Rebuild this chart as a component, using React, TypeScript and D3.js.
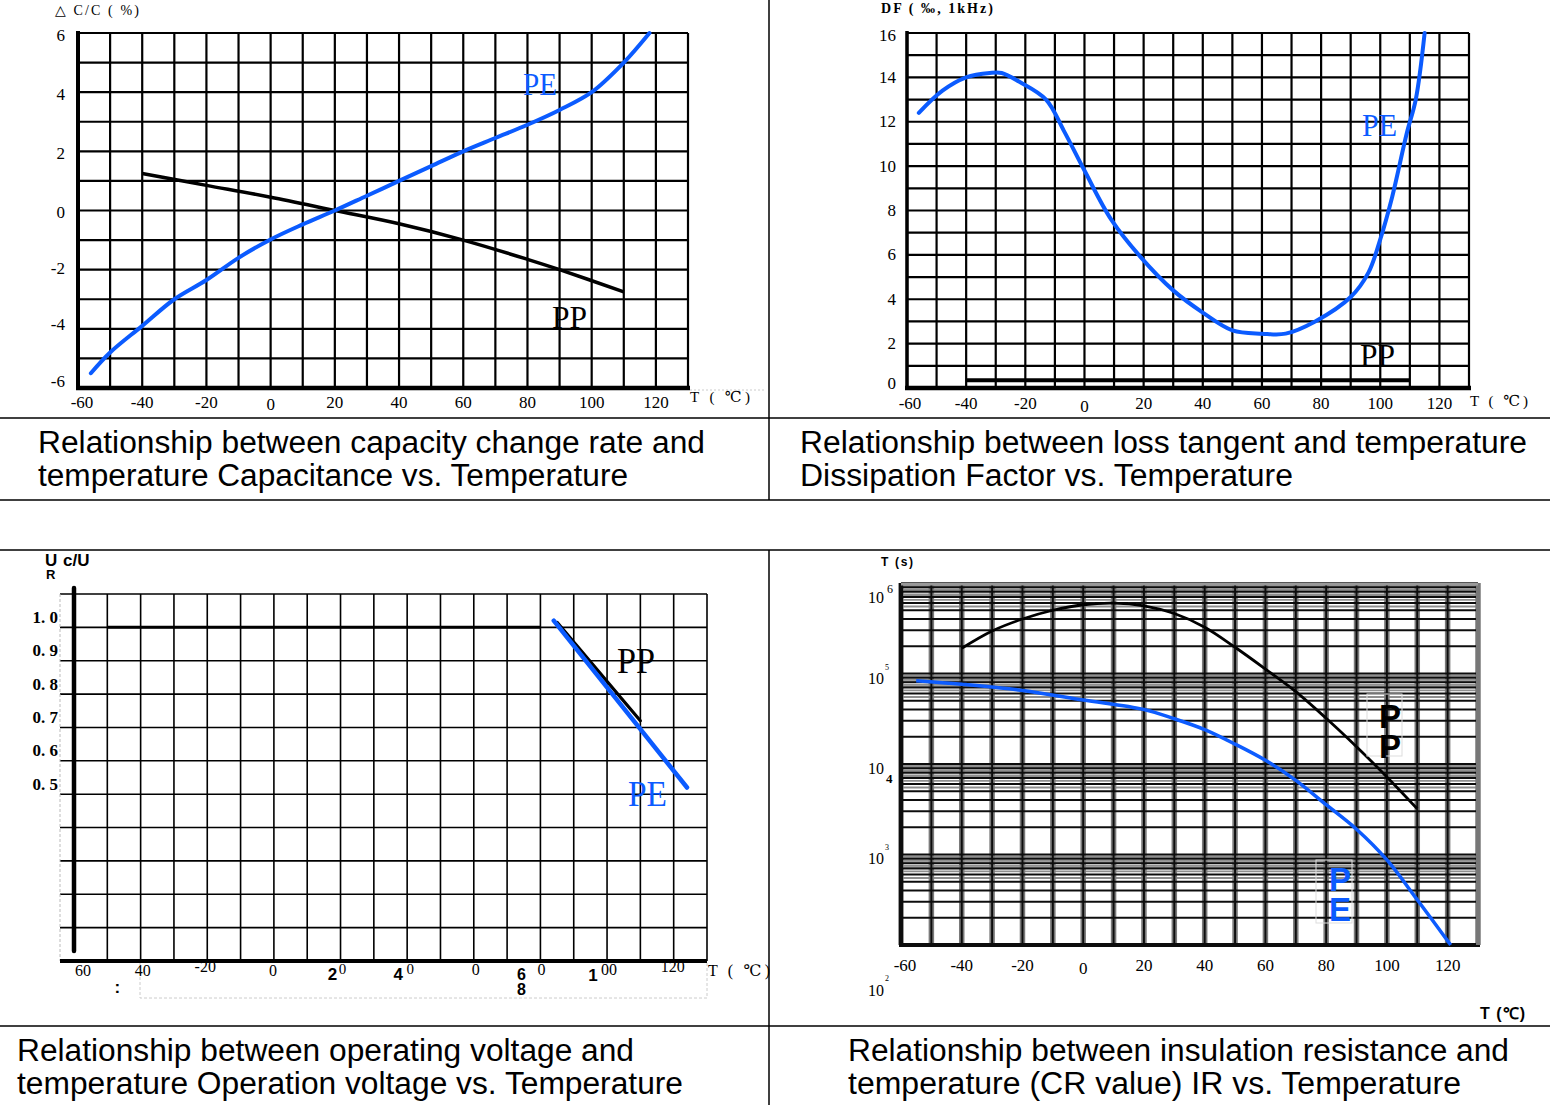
import React from 'react';
import * as d3 from 'd3';

const BLUE = '#0b5bff';
const SERIF = '"Liberation Serif", "DejaVu Serif", serif';
const SANS = '"Liberation Sans", Arial, sans-serif';

type Pt = [number, number];

// shared temperature axis
const tempTicks = [-60, -40, -20, 0, 20, 40, 60, 80, 100, 120];
const gridTemps = d3.range(-60, 131, 10);

// capacitance change vs temperature (%)
const capTicks = [6, 4, 2, 0, -2, -4, -6];
const capPE: Pt[] = [
  [-56, -5.5], [-50, -4.8], [-40, -3.9], [-30, -3.0], [-20, -2.35], [-10, -1.6], [0, -0.98],
  [10, -0.47], [20, 0], [30, 0.5], [40, 1.0], [50, 1.5], [60, 2.0], [70, 2.45], [80, 2.9],
  [90, 3.4], [100, 4.0], [110, 5.0], [118, 6.0],
];
const capPP: Pt[] = [
  [-40, 1.25], [-20, 0.85], [0, 0.45], [20, 0], [40, -0.45], [60, -1.0], [80, -1.65], [90, -2.0], [110, -2.75],
];

// dissipation factor vs temperature (‰)
const dfTicks = [16, 14, 12, 10, 8, 6, 4, 2, 0];
const dfPE: Pt[] = [
  [-56, 12.4], [-48, 13.4], [-40, 14.0], [-32, 14.2], [-28, 14.2], [-22, 13.8], [-13, 13.0],
  [-7, 11.6], [0, 9.8], [9, 7.6], [19, 5.9], [30, 4.4], [40, 3.4], [50, 2.6], [60, 2.45],
  [68, 2.45], [78, 3.0], [90, 4.1], [96, 5.2], [100, 6.7], [104, 8.6], [109, 11.5], [112, 13.0], [115, 16],
];
const dfPP: Pt[] = [[-40, 0.35], [110, 0.35]];

// operating voltage ratio vs temperature
const voltTicks = [1.0, 0.9, 0.8, 0.7, 0.6, 0.5];
const voltTickText = ['1. 0', '0. 9', '0. 8', '0. 7', '0. 6', '0. 5'];
const voltPPFlat: Pt[] = [[-50, 1.0], [80, 1.0]];
const voltPPDrop: Pt[] = [[85, 1.015], [110, 0.72]];
const voltPE: Pt[] = [[84, 1.02], [124, 0.52]];
const voltXText = ['60', '40', '-20', '0', '2', '0', '4', '0', '0', '6', '8', '0', '1', '00', '120', ':'];
const voltXTemp = [-60, -40, -20, 0, 20, 20, 40, 40, 60, 80, 80, 80, 100, 100, 120, -47];

// insulation resistance (CR value, s) vs temperature
const irDecades = [6, 5, 4, 3, 2];
const irPP: Pt[] = [
  [-40, 190000], [-30, 295000], [-20, 400000], [-10, 500000], [0, 575000], [10, 600000],
  [20, 560000], [30, 460000], [40, 325000], [50, 195000], [60, 112000], [70, 63000],
  [80, 32000], [90, 15500], [100, 7200], [110, 3200],
];
const irPE: Pt[] = [
  [-55, 83000], [-40, 76000], [-20, 65000], [0, 51000], [20, 40000], [30, 31600], [40, 24000],
  [50, 16600], [60, 11000], [70, 6600], [80, 3550], [90, 1900], [100, 870], [110, 316], [121, 100],
];

const captions = [
  ['Relationship between capacity change rate and', 'temperature Capacitance vs. Temperature'],
  ['Relationship between loss tangent and temperature', 'Dissipation Factor vs. Temperature'],
  ['Relationship between operating voltage and', 'temperature Operation voltage vs. Temperature'],
  ['Relationship between insulation resistance and', 'temperature (CR value) IR vs. Temperature'],
];

function Grid(props: { vx: number[]; hy: number[]; x0: number; x1: number; y0: number; y1: number; stroke?: string; width?: number }) {
  const { vx, hy, x0, x1, y0, y1, stroke = '#000', width = 2 } = props;
  return (
    <g stroke={stroke} strokeWidth={width}>
      {vx.map((x, i) => <line key={'v' + i} x1={x} x2={x} y1={y0} y2={y1} />)}
      {hy.map((y, i) => <line key={'h' + i} x1={x0} x2={x1} y1={y} y2={y} />)}
    </g>
  );
}

function CapChart() {
  const x = d3.scaleLinear().domain([-60, 130]).range([78, 688]);
  const y = d3.scaleLinear().domain([-6, 6]).range([388, 33]);
  const ln = d3.line<Pt>().x(d => x(d[0])).y(d => y(d[1])).curve(d3.curveCatmullRom.alpha(0.5));
  return (
    <g>
      <Grid vx={gridTemps.map(x)} hy={d3.range(-6, 7).map(y)} x0={78} x1={688} y0={33} y1={388} width={2.2} />
      <line x1={78} x2={78} y1={31} y2={390} stroke="#000" strokeWidth={4} />
      <line x1={76} x2={690} y1={388} y2={388} stroke="#000" strokeWidth={4.5} />
      <line x1={690} x2={765} y1={390} y2={390} stroke="#ccc" strokeWidth={1} strokeDasharray="2,2" />
      <path d={ln(capPP) || ''} fill="none" stroke="#000" strokeWidth={3.5} />
      <path d={ln(capPE) || ''} fill="none" stroke={BLUE} strokeWidth={4} strokeLinecap="round" />
      <g fontFamily={SERIF} fontSize={17} fill="#000">
        {capTicks.map(v => (
          <text key={v} x={65} y={y(v) + 2 - Math.max(0, -v) * 1.5} textAnchor="end" dominantBaseline="central">{v}</text>
        ))}
        {tempTicks.map(t => (
          <text key={t} x={x(t) + (t === -60 ? 4 : 0)} y={t === 0 ? 404 : 402} textAnchor="middle" dominantBaseline="central">{t}</text>
        ))}
        <text x={690} y={397} dominantBaseline="central" textLength={60} fontSize={15}>T ( ℃)</text>
        <text x={55} y={10} dominantBaseline="central" textLength={84} fontSize={14}>△ C/C ( %)</text>
      </g>
      <text x={523} y={95} fontFamily={SERIF} fontSize={32} fill={BLUE} textLength={34} lengthAdjust="spacingAndGlyphs">PE</text>
      <text x={552} y={328} fontFamily={SERIF} fontSize={32} fill="#000" textLength={35} lengthAdjust="spacingAndGlyphs">PP</text>
    </g>
  );
}

function DFChart() {
  const x = d3.scaleLinear().domain([-60, 130]).range([907, 1469]);
  const y = d3.scaleLinear().domain([0, 16]).range([388, 33]);
  const ln = d3.line<Pt>().x(d => x(d[0])).y(d => y(d[1])).curve(d3.curveCatmullRom.alpha(0.5));
  return (
    <g>
      <Grid vx={gridTemps.map(x)} hy={d3.range(0, 17).map(y)} x0={907} x1={1469} y0={33} y1={388} width={2.2} />
      <line x1={907} x2={907} y1={31} y2={390} stroke="#000" strokeWidth={3.5} />
      <line x1={905} x2={1471} y1={388} y2={388} stroke="#000" strokeWidth={4.5} />
      <path d={ln(dfPP) || ''} fill="none" stroke="#000" strokeWidth={4} />
      <path d={ln(dfPE) || ''} fill="none" stroke={BLUE} strokeWidth={4} strokeLinecap="round" />
      <g fontFamily={SERIF} fontSize={17} fill="#000">
        {dfTicks.map(v => (
          <text key={v} x={896} y={y(v) + (v === 16 ? 2 : v === 0 ? -5 : 0)} textAnchor="end" dominantBaseline="central">{v}</text>
        ))}
        {tempTicks.map(t => (
          <text key={t} x={x(t) + (t === -60 ? 3 : 0)} y={t === 0 ? 406 : 403} textAnchor="middle" dominantBaseline="central">{t}</text>
        ))}
        <text x={1470} y={401} dominantBaseline="central" textLength={58} fontSize={15}>T ( ℃)</text>
        <text x={881} y={8.5} dominantBaseline="central" textLength={112} fontSize={14} fontWeight="bold">DF ( ‰, 1kHz)</text>
      </g>
      <text x={1362} y={136} fontFamily={SERIF} fontSize={32} fill={BLUE} textLength={35} lengthAdjust="spacingAndGlyphs">PE</text>
      <text x={1360} y={366} fontFamily={SERIF} fontSize={32} fill="#000" textLength={35} lengthAdjust="spacingAndGlyphs">PP</text>
    </g>
  );
}

function VoltChart() {
  const x = d3.scaleLinear().domain([-60, 130]).range([74, 707]);
  const y = d3.scaleLinear().domain([0, 1.1]).range([961, 594]);
  const ln = d3.line<Pt>().x(d => x(d[0])).y(d => y(d[1]));
  // per-label nudges for the jumbled x labels of the source
  const nudge: [number, number, number, boolean][] = [
    [9, 970, 16, false], [2, 970, 16, false], [-2, 966, 16, false], [-1, 970, 16, false],
    [-8, 974, 17, true], [2, 969, 15, false], [-9, 974, 17, true], [3, 969, 15, false],
    [2, 969, 16, false], [-19, 974, 16, true], [-19, 989, 16, true], [1, 969, 16, false],
    [-14, 975, 17, true], [2, 969, 16, false], [-1, 966, 16, false], [0, 987, 17, true],
  ];
  return (
    <g>
      <Grid vx={d3.range(-50, 131, 10).map(x)} hy={d3.range(1, 12).map(i => y(i / 10))} x0={60} x1={707} y0={594} y1={961} width={1.6} />
      <line x1={60} x2={60} y1={594} y2={961} stroke="#bbb" strokeWidth={1} strokeDasharray="3,2" />
      <path d="M140,962 V998 H707 V962" fill="none" stroke="#ccc" strokeWidth={1} strokeDasharray="3,2" />
      <line x1={60} x2={707} y1={961} y2={961} stroke="#000" strokeWidth={4} />
      <line x1={74} x2={74} y1={588} y2={951} stroke="#000" strokeWidth={4.5} strokeLinecap="round" />
      <path d={ln(voltPPFlat) || ''} fill="none" stroke="#000" strokeWidth={3} />
      <path d={ln(voltPPDrop) || ''} fill="none" stroke="#000" strokeWidth={3.2} strokeLinecap="round" />
      <path d={ln(voltPE) || ''} fill="none" stroke={BLUE} strokeWidth={4.5} strokeLinecap="round" />
      <g fontFamily={SERIF} fontSize={17} fill="#000" fontWeight="bold">
        {voltTicks.map((v, i) => (
          <text key={i} x={58} y={y(v) - 10} textAnchor="end" dominantBaseline="central">{voltTickText[i]}</text>
        ))}
      </g>
      <g fill="#000">
        {voltXText.map((s, i) => {
          const [dx, cy, fs, bold] = nudge[i];
          return (
            <text key={i} x={x(voltXTemp[i]) + dx} y={cy} textAnchor="middle" dominantBaseline="central"
              fontFamily={bold ? SANS : SERIF} fontWeight={bold ? 'bold' : 'normal'} fontSize={fs}>{s}</text>
          );
        })}
        <text x={708} y={970} fontFamily={SERIF} fontSize={16} dominantBaseline="central" textLength={62}>T ( ℃)</text>
      </g>
      <g fontFamily={SANS} fontWeight="bold" fill="#000">
        <text x={45} y={566} fontSize={17}>U</text>
        <text x={63} y={566} fontSize={17}>c/U</text>
        <text x={46} y={579} fontSize={13}>R</text>
      </g>
      <text x={617} y={673} fontFamily={SERIF} fontSize={36} fill="#000" textLength={38} lengthAdjust="spacingAndGlyphs">PP</text>
      <text x={628} y={806} fontFamily={SERIF} fontSize={36} fill={BLUE} textLength={39} lengthAdjust="spacingAndGlyphs">PE</text>
    </g>
  );
}

function IRChart() {
  const x = d3.scaleLinear().domain([-60, 130]).range([901, 1478]);
  const y = d3.scaleLog().domain([100, 1e6]).range([945, 583]);
  const ln = d3.line<Pt>().x(d => x(d[0])).y(d => y(d[1])).curve(d3.curveCatmullRom.alpha(0.5));
  const minor: number[] = [];
  const dense: number[] = [];
  [2, 3, 4, 5].forEach(n => {
    for (let k = 1; k <= 9; k++) minor.push(k * 10 ** n);
    [5.5, 6.5, 7.5, 8.5, 9.5, 7.2, 8.2, 9.2].forEach(k => dense.push(k * 10 ** n));
  });
  minor.push(1e6);
  const vx = gridTemps.map(x);
  // exponent placement mirrors the source's slightly scattered superscripts
  const expo: [number, number, number, boolean][] = [[887, 589, 12, false], [885, 667, 8, false], [886, 778, 13, true], [885, 847, 8, false], [885, 978, 8, false]];
  const base = [597, 678, 768, 858, 990];
  return (
    <g>
      <g filter="url(#soft)">
        <rect x={901} y={583} width={577} height={362} fill="#fff" />
        <g stroke="#8f8f8f" strokeWidth={1.8}>
          {dense.map((v, i) => <line key={i} x1={901} x2={1478} y1={y(v)} y2={y(v)} />)}
        </g>
        <g stroke="#7a7a7a" strokeWidth={5.5}>
          {vx.map((v, i) => <line key={i} x1={v} x2={v} y1={583} y2={945} />)}
        </g>
        <g stroke="#111" strokeWidth={2}>
          {minor.map((v, i) => <line key={i} x1={901} x2={1478} y1={y(v)} y2={y(v)} />)}
          {vx.map((v, i) => <line key={'v' + i} x1={v} x2={v} y1={583} y2={945} />)}
        </g>
        <line x1={901} x2={901} y1={583} y2={947} stroke="#111" strokeWidth={4} />
        <line x1={899} x2={1480} y1={945} y2={945} stroke="#111" strokeWidth={4} />
        <line x1={1478} x2={1478} y1={583} y2={945} stroke="#777" strokeWidth={4} />
        <line x1={901} x2={1478} y1={584} y2={584} stroke="#999" strokeWidth={3} />
        <path d={ln(irPP) || ''} fill="none" stroke="#000" strokeWidth={2.8} />
        <path d={ln(irPE) || ''} fill="none" stroke={BLUE} strokeWidth={3.5} />
      </g>
      <g fontFamily={SERIF} fill="#000">
        {irDecades.map((d, i) => (
          <g key={d}>
            <text x={868} y={base[i]} fontSize={16} dominantBaseline="central">10</text>
            <text x={expo[i][0]} y={expo[i][1]} fontSize={expo[i][2]} fontWeight={expo[i][3] ? 'bold' : 'normal'} dominantBaseline="central">{d}</text>
          </g>
        ))}
        {tempTicks.map(t => (
          <text key={t} x={x(t) + (t === -60 ? 4 : 0)} y={t === 0 ? 968 : 965} fontSize={17} textAnchor="middle" dominantBaseline="central">{t}</text>
        ))}
      </g>
      <g fontFamily={SANS} fontWeight="bold" fill="#000">
        <text x={881} y={562} fontSize={12} dominantBaseline="central" textLength={32}>T (s)</text>
        <text x={1480} y={1013} fontSize={16} dominantBaseline="central" textLength={45}>T (℃)</text>
      </g>
      <rect x={1367} y={694} width={35} height={62} fill="none" stroke="#ddd" strokeWidth={1} />
      <rect x={1316} y={860} width={36} height={63} fill="none" stroke="#ddd" strokeWidth={1} />
      <g fontFamily={SANS} fontWeight="bold" fontSize={33}>
        <text x={1390} y={698} fill="#000" writingMode="vertical-rl" letterSpacing={-7} style={{ textOrientation: 'upright' } as React.CSSProperties}>PP</text>
        <text x={1340} y={861} fill={BLUE} writingMode="vertical-rl" letterSpacing={-7} style={{ textOrientation: 'upright' } as React.CSSProperties}>PE</text>
      </g>
    </g>
  );
}

function Captions() {
  const spots: [number, number, number, number][] = [
    [38, 453, 667, 590], [800, 453, 727, 493], [17, 1061, 617, 666], [848, 1061, 661, 613],
  ];
  return (
    <g fontFamily={SANS} fontSize={31} fill="#000">
      {captions.map((c, i) => (
        <g key={i}>
          <text x={spots[i][0]} y={spots[i][1]} textLength={spots[i][2]} lengthAdjust="spacingAndGlyphs">{c[0]}</text>
          <text x={spots[i][0]} y={spots[i][1] + 33} textLength={spots[i][3]} lengthAdjust="spacingAndGlyphs">{c[1]}</text>
        </g>
      ))}
    </g>
  );
}

export default function App() {
  return (
    <svg width={1550} height={1105} style={{ position: 'absolute', left: 0, top: 0, background: '#fff' }}>
      <defs>
        <filter id="soft" x="-2%" y="-2%" width="104%" height="104%">
          <feGaussianBlur stdDeviation="0.6" />
        </filter>
      </defs>
      <rect width={1550} height={1105} fill="#fff" />
      <g stroke="#000" strokeWidth={1.5}>
        <line x1={0} x2={1550} y1={418} y2={418} />
        <line x1={0} x2={1550} y1={500} y2={500} />
        <line x1={0} x2={1550} y1={550} y2={550} />
        <line x1={0} x2={1550} y1={1026} y2={1026} />
        <line x1={769} x2={769} y1={0} y2={500} />
        <line x1={769} x2={769} y1={550} y2={1105} />
      </g>
      <CapChart />
      <DFChart />
      <VoltChart />
      <IRChart />
      <Captions />
    </svg>
  );
}
